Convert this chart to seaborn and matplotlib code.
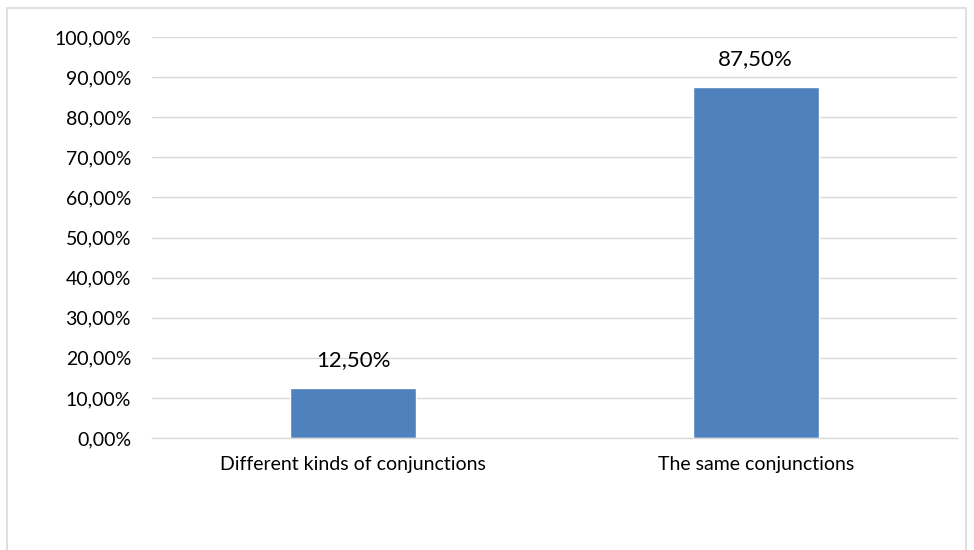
import matplotlib
matplotlib.use("Agg")
import matplotlib.pyplot as plt
import seaborn as sns
import pandas as pd
from matplotlib.patches import Rectangle

categories = ["Different kinds of conjunctions", "The same conjunctions"]
shares = [12.50, 87.50]
y_ticks = [0, 10, 20, 30, 40, 50, 60, 70, 80, 90, 100]

df = pd.DataFrame({"category": categories, "share": shares})

sns.set_theme(style="white")
plt.rcParams["font.family"] = ["Lato", "DejaVu Sans"]

fig = plt.figure(figsize=(9.74, 5.5), dpi=100)
ax = fig.add_axes([0.156, 0.2036, 0.8265, 0.7291])

sns.barplot(data=df, x="category", y="share", color="#4F81BD",
            saturation=1, width=0.313, ax=ax)

ax.set_ylim(0, 100)
ax.set_xlim(-0.5, 1.5)
ax.set_yticks(y_ticks)
ax.set_yticklabels([f"{v:.2f}".replace(".", ",") + "%" for v in y_ticks],
                   fontsize=14, color="#000000")
ax.tick_params(axis="x", labelsize=14, pad=13, length=0, labelcolor="#000000")
ax.tick_params(axis="y", pad=15, length=0)
ax.set_xlabel("")
ax.set_ylabel("")
ax.grid(axis="y", color="#D9D9D9", linewidth=1)
ax.set_axisbelow(True)
for s in ["top", "right", "left"]:
    ax.spines[s].set_visible(False)
ax.spines["bottom"].set_color("#D9D9D9")
ax.spines["bottom"].set_linewidth(1)

for patch, v in zip(ax.patches, shares):
    ax.text(patch.get_x() + patch.get_width() / 2, v + 4.5,
            f"{v:.2f}".replace(".", ",") + "%",
            ha="center", va="bottom", fontsize=16, color="#000000")

# chart frame
fig.patches.append(Rectangle((7 / 974, -0.01), (966 - 7) / 974, 1 - 8 / 550 + 0.01,
                             transform=fig.transFigure, fill=False,
                             edgecolor="#D9D9D9", linewidth=1.2))

fig.savefig("out.png", dpi=100)
